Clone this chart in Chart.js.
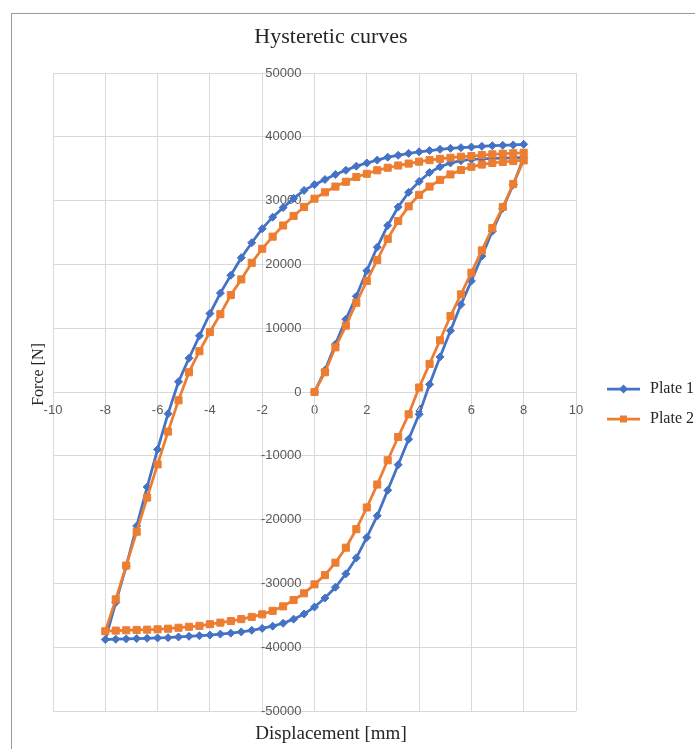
<!DOCTYPE html>
<html>
<head>
<meta charset="utf-8">
<title>Hysteretic curves</title>
<script src="https://cdn.jsdelivr.net/npm/chart.js@4.4.1/dist/chart.umd.min.js"></script>
<style>
  html, body { margin: 0; padding: 0; background: #ffffff; overflow: hidden; width: 695px; height: 749px; position: relative; }
  #frame { position: absolute; left: 11px; top: 13px; width: 800px; height: 800px; border: 1px solid #9a9a9a; }
  #wrap { position: absolute; left: -39px; top: 0; width: 740px; height: 749px; }
</style>
</head>
<body>
<div id="frame"></div>
<div id="wrap"><canvas id="c" width="740" height="749"></canvas></div>
<script>
// ---------------- data ----------------
const seriesNames = ['Plate 1', 'Plate 2'];

// displacement [mm] for each branch of the loop
const dispLoading   = [0, 0.4, 0.8, 1.2, 1.6, 2, 2.4, 2.8, 3.2, 3.6, 4, 4.4, 4.8, 5.2, 5.6, 6, 6.4, 6.8, 7.2, 7.6, 8];
const dispUnloading = [7.6, 7.2, 6.8, 6.4, 6, 5.6, 5.2, 4.8, 4.4, 4, 3.6, 3.2, 2.8, 2.4, 2, 1.6, 1.2, 0.8, 0.4, 0,
                       -0.4, -0.8, -1.2, -1.6, -2, -2.4, -2.8, -3.2, -3.6, -4, -4.4, -4.8, -5.2, -5.6, -6, -6.4, -6.8, -7.2, -7.6, -8];
const dispReloading = [-7.6, -7.2, -6.8, -6.4, -6, -5.6, -5.2, -4.8, -4.4, -4, -3.6, -3.2, -2.8, -2.4, -2, -1.6, -1.2, -0.8, -0.4, 0,
                       0.4, 0.8, 1.2, 1.6, 2, 2.4, 2.8, 3.2, 3.6, 4, 4.4, 4.8, 5.2, 5.6, 6, 6.4, 6.8, 7.2, 7.6, 8];

// force [N], Plate 1
const plate1Loading   = [0, 3400, 7500, 11400, 15000, 19000, 22700, 26100, 29000, 31300, 33000, 34400, 35300, 35900, 36250, 36450, 36550, 36600, 36650, 36700, 36750];
const plate1Unloading = [32500, 28800, 25200, 21300, 17400, 13700, 9600, 5500, 1200, -3500, -7400, -11400, -15400, -19400, -22800, -26000, -28500, -30600, -32300, -33700,
                         -34800, -35600, -36250, -36700, -37050, -37350, -37600, -37800, -37950, -38100, -38200, -38300, -38400, -38500, -38550, -38600, -38650, -38700, -38750, -38800];
const plate1Reloading = [-33000, -27300, -21000, -14900, -9000, -3400, 1600, 5300, 8800, 12300, 15500, 18300, 21050, 23400, 25600, 27400, 28900, 30350, 31600, 32500,
                         33300, 34100, 34750, 35400, 35900, 36350, 36800, 37100, 37400, 37650, 37850, 38030, 38190, 38300, 38400, 38500, 38600, 38660, 38720, 38820];

// force [N], Plate 2
const plate2Loading   = [0, 3100, 7000, 10400, 14000, 17400, 20700, 24000, 26800, 29100, 30900, 32200, 33250, 34100, 34800, 35300, 35650, 35900, 36050, 36200, 36300];
const plate2Unloading = [32600, 29000, 25700, 22200, 18700, 15300, 11900, 8100, 4400, 700, -3500, -7050, -10700, -14500, -18100, -21500, -24400, -26750, -28700, -30150,
                         -31550, -32600, -33600, -34300, -34850, -35250, -35600, -35900, -36150, -36400, -36650, -36800, -36950, -37100, -37200, -37250, -37300, -37350, -37400, -37500];
const plate2Reloading = [-32500, -27200, -21900, -16550, -11350, -6200, -1300, 3100, 6400, 9400, 12200, 15200, 17650, 20250, 22450, 24350, 26100, 27600, 29000, 30300,
                         31300, 32200, 32950, 33700, 34200, 34750, 35150, 35500, 35800, 36100, 36350, 36550, 36720, 36880, 36980, 37140, 37250, 37350, 37420, 37500];

// axis ranges / tick steps
const xRange = [-10, 10];
const xStep = 2;
const yRange = [-50000, 50000];
const yStep = 10000;

// ---------------- build the path of each loop ----------------
function toPoints(xs, ys) { return xs.map((x, i) => ({ x: x, y: ys[i] })); }
function loopPath(load, unload, reload) {
  return toPoints(dispLoading, load)
    .concat(toPoints(dispUnloading, unload))
    .concat(toPoints(dispReloading, reload));
}
const plate1Path = loopPath(plate1Loading, plate1Unloading, plate1Reloading);
const plate2Path = loopPath(plate2Loading, plate2Unloading, plate2Reloading);

const BLUE = '#4472C4';
const ORANGE = '#ED7D31';
const SERIF = '"Liberation Serif", "Times New Roman", serif';
const SANS = '"Liberation Sans", Arial, sans-serif';
const TEXT = '#262626';
const TICK = '#595959';
const GRID = '#d9d9d9';

// legend symbol: a short line with the series marker in its middle
function legendIcon(color, marker) {
  const c = document.createElement('canvas');
  c.width = 48; c.height = 12;
  const g = c.getContext('2d');
  g.strokeStyle = color; g.lineWidth = 2.75;
  g.beginPath(); g.moveTo(15, 6); g.lineTo(48, 6); g.stroke();
  g.fillStyle = color;
  const cx = 31.5, cy = 6;
  if (marker === 'diamond') {
    g.beginPath(); g.moveTo(cx, cy - 4.5); g.lineTo(cx + 4.5, cy); g.lineTo(cx, cy + 4.5); g.lineTo(cx - 4.5, cy); g.closePath(); g.fill();
  } else {
    g.fillRect(cx - 3.5, cy - 3.5, 7, 7);
  }
  return c;
}
const legendIcons = [legendIcon(BLUE, 'diamond'), legendIcon(ORANGE, 'square')];

new Chart(document.getElementById('c'), {
  type: 'scatter',
  data: {
    datasets: [
      {
        label: seriesNames[0], data: plate1Path, xAxisID: 'x', yAxisID: 'y',
        showLine: true, tension: 0, borderColor: BLUE, backgroundColor: BLUE, borderWidth: 2.75,
        pointStyle: 'rectRot', pointRadius: 4, pointHoverRadius: 4, pointBorderWidth: 1, order: 1
      },
      {
        label: seriesNames[1], data: plate2Path, xAxisID: 'x', yAxisID: 'y',
        showLine: true, tension: 0, borderColor: ORANGE, backgroundColor: ORANGE, borderWidth: 2.75,
        pointStyle: 'rect', pointRadius: 5, pointHoverRadius: 5, pointBorderWidth: 1, order: 0
      }
    ]
  },
  options: {
    responsive: false,
    animation: false,
    devicePixelRatio: 1,
    layout: { padding: { left: 0, right: 0, top: 0, bottom: 0 } },
    plugins: {
      title: {
        display: true, text: 'Hysteretic curves', color: TEXT,
        font: { family: SERIF, size: 22, weight: 'normal' },
        padding: { top: 24.5, bottom: 22.1 }
      },
      subtitle: {
        display: true, position: 'bottom', text: 'Displacement [mm]', color: TEXT,
        font: { family: SERIF, size: 19, weight: 'normal' },
        padding: { top: 12, bottom: 3.2 }
      },
      legend: {
        display: true, position: 'right', fullSize: false, maxWidth: 125, align: 'center',
        title: { display: true, text: '', font: { size: 10, lineHeight: 1 }, padding: { top: 14, bottom: 0 } },
        labels: {
          usePointStyle: true, pointStyleWidth: 52, padding: 14, color: TEXT,
          font: { family: SERIF, size: 16, weight: 'normal' },
          sort: (a, b) => a.datasetIndex - b.datasetIndex,
          generateLabels(chart) {
            const items = Chart.defaults.plugins.legend.labels.generateLabels(chart);
            items.forEach(it => { it.pointStyle = legendIcons[it.datasetIndex]; });
            return items;
          }
        }
      },
      tooltip: { enabled: false }
    },
    scales: {
      x: {
        type: 'linear', position: 'center', min: xRange[0], max: xRange[1],
        ticks: { stepSize: xStep, padding: 11, autoSkip: false, maxRotation: 0, color: TICK,
                 font: { family: SANS, size: 13 }, callback: v => String(v) },
        grid: { color: GRID, lineWidth: 1, drawTicks: false },
        border: { color: GRID, width: 1 }
      },
      y: {
        type: 'linear', position: 'center', min: yRange[0], max: yRange[1],
        ticks: { stepSize: yStep, padding: 13, autoSkip: false, color: TICK,
                 font: { family: SANS, size: 13 }, callback: v => String(v) },
        grid: { color: GRID, lineWidth: 1, drawTicks: false },
        border: { color: GRID, width: 1 }
      },
      yt: {
        type: 'linear', position: 'left', display: true, fullSize: true,
        grid: { display: false, drawTicks: false },
        border: { display: false },
        ticks: { display: false },
        title: { display: true, text: 'Force [N]', color: TEXT,
                 font: { family: SERIF, size: 16, weight: 'normal' },
                 padding: { top: 68.4, bottom: 4.4 } }
      }
    }
  }
});
</script>
</body>
</html>
